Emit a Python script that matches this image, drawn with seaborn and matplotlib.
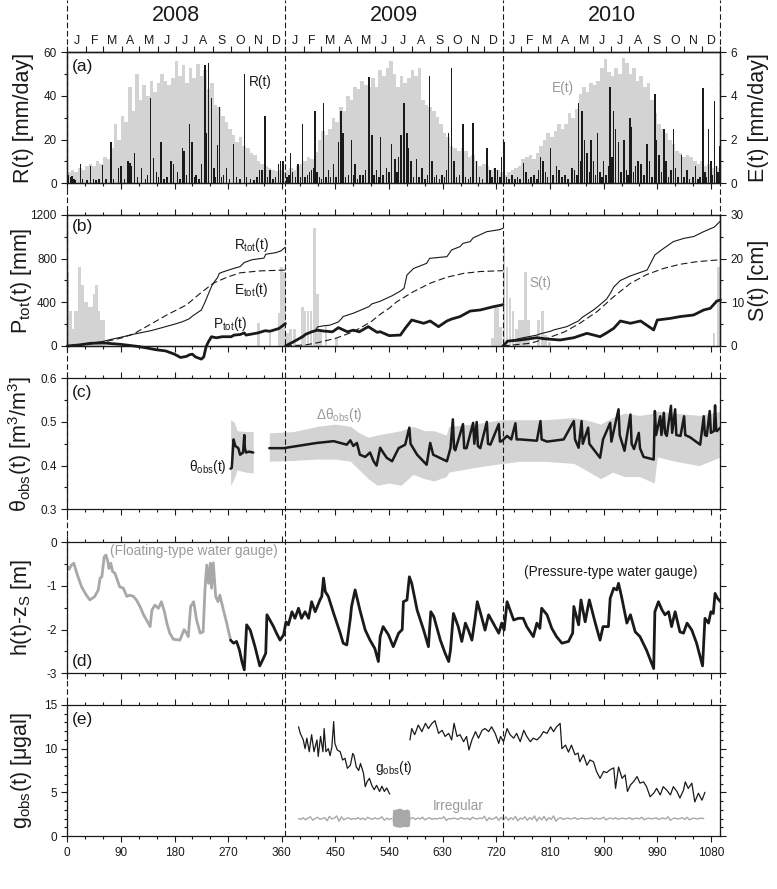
import numpy as np
import matplotlib
matplotlib.use("Agg")
import matplotlib.pyplot as plt
from matplotlib.ticker import MultipleLocator, NullFormatter
import seaborn as sns

sns.set_theme(style="ticks")
plt.rcParams['font.family'] = ['Liberation Sans', 'DejaVu Sans']
plt.rcParams['mathtext.fontset'] = 'custom'
plt.rcParams['mathtext.rm'] = 'Liberation Sans'
plt.rcParams['mathtext.it'] = 'Liberation Sans:italic'
plt.rcParams['mathtext.bf'] = 'Liberation Sans:bold'
plt.rcParams['axes.unicode_minus'] = False

# ---------------- data ----------------
years = ["2008", "2009", "2010"]
year_start = [0, 366, 731, 1096]
month_letters = list("JFMAMJJASOND")
month_len_2008 = [31, 29, 31, 30, 31, 30, 31, 31, 30, 31, 30, 31]
month_len_2009 = [31, 28, 31, 30, 31, 30, 31, 31, 30, 31, 30, 31]
month_len_2010 = [31, 28, 31, 30, 31, 30, 31, 31, 30, 31, 30, 31]
xtick_labels = ["0", "90", "180", "270", "360", "450", "540", "630", "720", "810", "900", "990", "1080"]

# (a) daily rainfall R(t) [mm/day]
R_day = [2, 5, 8, 11, 14, 22, 26, 33, 39, 44, 48, 53, 59, 65, 73, 78, 86, 90, 96, 102, 105, 108, 113, 118, 125,
         131, 135, 140, 145, 150, 153, 157, 162, 167, 174, 178, 185, 189, 193, 196, 200, 205, 209, 213, 216, 221,
         225, 231, 234, 237, 242, 246, 249, 252, 255, 259, 262, 267, 272, 279, 284, 290, 297, 301, 307, 313, 318,
         323, 327, 332, 336, 340, 345, 349, 354, 358, 362,
         369, 372, 375, 378, 383, 387, 391, 395, 399, 403, 406, 410, 413, 416, 419, 423, 427, 430, 434, 438, 442,
         447, 451, 455, 459, 463, 467, 472, 477, 480, 483, 487, 491, 496, 500, 506, 511, 515, 519, 523, 526, 530,
         536, 540, 544, 550, 553, 556, 560, 565, 570, 573, 577, 581, 586, 590, 595, 600, 604, 608, 612, 616, 620,
         625, 629, 633, 636, 640, 645, 649, 653, 658, 664, 668, 673, 677, 681, 687, 692, 697, 704, 709, 713, 718,
         722, 726, 729,
         733, 737, 741, 746, 751, 755, 760, 766, 770, 774, 778, 783, 788, 791, 794, 798, 802, 806, 811, 815, 821,
         825, 830, 835, 840, 847, 851, 855, 858, 861, 864, 868, 872, 876, 879, 883, 886, 890, 894, 897, 900, 904,
         908, 911, 914, 917, 920, 925, 929, 934, 938, 941, 944, 947, 950, 953, 958, 963, 968, 973, 977, 981, 986,
         989, 993, 997, 1001, 1005, 1009, 1013, 1017, 1021, 1025, 1031, 1035, 1040, 1044, 1050, 1054, 1058, 1062,
         1067, 1070, 1073, 1076, 1080, 1083, 1086, 1089, 1092, 1095]
R_val = [4, 3, 3.5, 2, 1.5, 9, 2, 1.5, 8, 2, 1.5, 2, 8.5, 2, 19, 2, 7, 8, 2, 10, 9.5, 8, 14, 3, 7,
         2, 4, 39, 11.5, 5, 3, 19, 2, 3, 10, 9, 5, 2, 16, 15, 4, 27, 19, 3, 4, 2,
         9, 54, 23, 55, 39, 7, 3, 17.5, 35, 3, 4, 7, 2, 18, 3, 2, 50, 3, 2, 1.5, 3,
         6, 6, 31, 3, 6, 2, 3, 9, 10, 10,
         3, 4, 14, 5, 3, 9, 3, 27, 3, 4, 5, 6, 7, 33, 5, 3, 2, 37, 3, 6, 3,
         9, 3, 19, 33, 23, 3, 4, 20, 4, 9, 2, 4, 4, 6, 48.5, 22, 4, 6, 3, 21, 4,
         7, 5, 18, 11, 5, 12, 22, 37, 23, 16, 10, 3, 11, 3, 7, 2, 4, 49, 10, 3, 4,
         2, 4, 3, 6, 23, 53, 10, 3, 4, 27, 3, 2, 3, 27.5, 10, 3, 2, 16, 6, 3, 7,
         6, 3, 12,
         19, 3, 2, 4, 2, 3, 2, 9.5, 5, 2, 3, 4, 2, 6, 12, 10, 5, 3, 16, 4, 8,
         6, 3, 4, 2, 7, 6, 4, 37, 10, 33, 20, 14, 5, 20, 10, 4, 23, 5, 3, 10, 4,
         8, 44, 12, 33, 25, 19, 5, 20, 6, 4, 30, 26, 5, 8, 10, 9, 4, 18, 10, 3, 41,
         20, 13, 5, 25, 10, 3, 6, 25, 7, 3, 13, 3, 6, 2, 3, 8, 2, 3,
         43.5, 5, 3, 25, 10, 4, 37.5, 8, 5, 17]

# (a) evaporation E(t) [mm/day], 6-day bins starting at day 0
E_val = [0.5, 0.6, 0.5, 0.7, 0.6, 0.8, 0.9, 0.8, 1.0, 0.9,
         1.2, 1.1, 1.6, 2.7, 2.0, 3.1, 2.8, 4.4, 3.3, 5.0,
         3.8, 4.5, 4.0, 4.7, 4.2, 4.6, 5.0, 4.7, 4.5, 4.8,
         5.6, 4.9, 5.4, 4.6, 5.3, 4.8, 5.45, 4.9, 5.2, 4.3,
         4.6, 3.6, 3.5, 3.1, 2.8, 2.5, 2.2, 1.9, 2.1, 1.7,
         1.6, 1.4, 1.3, 1.0, 0.9, 0.8, 0.7, 0.6, 0.55, 0.6,
         0.5, 0.6, 0.7, 0.6, 0.8, 0.9, 1.0, 1.2, 1.1, 1.45,
         2.0, 2.4, 2.2, 2.5, 3.0, 2.8, 3.5, 3.3, 4.0, 3.8,
         4.4, 4.3, 4.7, 4.5, 4.4, 4.8, 4.4, 5.2, 4.9, 5.3,
         5.6, 5.0, 4.4, 4.9, 4.6, 4.8, 5.2, 4.9, 5.3, 3.8,
         3.6, 3.5, 3.3, 3.05, 2.7, 2.3, 2.1, 1.7, 1.6, 1.5,
         1.6, 1.5, 1.2, 1.3, 1.0, 0.8, 0.9, 0.8, 0.6, 0.7,
         0.6, 0.5, 0.4, 0.5, 0.6, 0.7, 0.8, 1.1, 1.2, 1.3,
         1.1, 1.4, 1.7, 2.0, 2.3, 2.1, 2.4, 2.7, 2.5, 2.7,
         3.2, 3.0, 3.4, 4.1, 4.4, 4.2, 4.6, 4.5, 4.7, 5.3,
         5.7, 5.1, 4.9, 5.3, 5.0, 5.75, 5.5, 5.0, 5.3, 4.7,
         4.9, 4.4, 4.6, 3.8, 3.2, 2.7, 2.5, 2.3, 2.0, 1.8,
         1.5, 1.4, 1.2, 1.3, 1.2, 1.0, 0.9, 1.0, 0.8, 0.9,
         0.7, 0.8, 0.7]

# (b) cumulative totals [mm], one list per year
Rtot_day = [[0, 30, 60, 73, 90, 113, 140, 157, 180, 193, 205, 209, 217, 225, 231, 237, 242, 247, 252, 255, 262,
             279, 290, 297, 310, 330, 333, 350, 358, 366],
            [366, 375, 380, 395, 400, 416, 420, 430, 440, 455, 460, 463, 477, 480, 506, 511, 525, 545, 558, 565,
             570, 581, 603, 608, 637, 645, 659, 664, 676, 681, 704, 725, 731],
            [731, 738, 760, 788, 794, 811, 816, 838, 858, 864, 883, 890, 905, 911, 917, 928, 944, 973, 986, 1001,
             1017, 1035, 1051, 1067, 1086, 1096]]
Rtot_val = [[0, 18, 42, 60, 80, 110, 140, 165, 200, 222, 250, 270, 300, 330, 400, 480, 545, 590, 625, 665, 680,
             710, 727, 765, 790, 805, 840, 855, 870, 905],
            [0, 20, 40, 95, 105, 140, 175, 185, 190, 220, 250, 270, 295, 300, 360, 385, 410, 460, 500, 528,
             650, 710, 757, 803, 818, 880, 910, 940, 956, 990, 1047, 1065, 1078],
            [0, 40, 70, 100, 112, 135, 147, 177, 230, 262, 330, 360, 430, 480, 540, 600, 640, 696, 834, 895,
             956, 986, 1002, 1045, 1090, 1145]]
Etot_day = [[0, 30, 60, 90, 111, 140, 167, 200, 223, 245, 268, 290, 324, 366],
            [366, 400, 420, 450, 480, 510, 525, 540, 553, 581, 609, 637, 665, 693, 731],
            [731, 777, 805, 835, 860, 889, 917, 945, 973, 1001, 1028, 1056, 1096]]
Etot_val = [[0, 12, 35, 72, 110, 200, 284, 376, 482, 575, 630, 670, 688, 695],
            [0, 10, 30, 70, 130, 223, 290, 345, 406, 498, 575, 630, 665, 682, 690],
            [0, 25, 70, 131, 208, 315, 452, 574, 656, 711, 748, 772, 790]]
Ptot_day = [[0, 20, 40, 60, 90, 120, 150, 165, 180, 190, 200, 205, 210, 215, 225, 229, 233, 237, 242, 250, 260,
             275, 280, 290, 297, 300, 320, 332, 340, 355, 360, 366],
            [366, 380, 395, 400, 410, 420, 430, 445, 455, 470, 480, 490, 505, 520, 525, 540, 559, 567, 578, 598,
             609, 623, 637, 645, 659, 676, 693, 715, 729, 731],
            [731, 739, 760, 788, 805, 827, 850, 872, 894, 905, 917, 928, 945, 962, 984, 990, 1012, 1028, 1051,
             1068, 1079, 1090, 1096]]
Ptot_val = [[0, 10, 25, 28, 15, -5, -35, -45, -75, -105, -95, -80, -75, -100, -120, -100, -5, 40, 85, 75, 85,
             85, 100, 105, 120, 100, 120, 140, 135, 160, 180, 205],
            [0, 40, 85, 107, 130, 145, 137, 130, 168, 130, 145, 130, 177, 125, 131, 95, 100, 162, 238, 208,
             229, 177, 229, 247, 269, 320, 330, 360, 375, 380],
            [0, 45, 55, 76, 64, 55, 76, 116, 85, 120, 162, 229, 208, 229, 147, 238, 253, 269, 284, 330, 345,
             412, 421]]

# (b) snow depth S(t) [cm]
S_day = [1, 5, 9, 13, 17, 21, 25, 29, 33, 37, 41, 45, 49, 53, 57, 61, 321, 340, 356, 360, 364,
         370, 375, 381, 395, 399, 404, 409, 415, 420, 425, 434, 452,
         714, 719, 723, 727, 733, 738, 743, 748, 754, 759, 764, 769, 774, 791, 797, 802, 809, 1085, 1093]
S_val = [17, 8, 4, 8, 8, 18, 14, 10, 10, 9, 9, 12, 14, 8, 6, 6, 5.2, 3, 7.5, 18, 17,
         2.9, 4, 4, 9, 8, 8, 8, 27, 12, 4, 4.8, 1.8,
         1.8, 8.6, 8.6, 4.4, 23, 18, 11, 8, 4, 6, 6, 17, 6, 6, 8, 2.5, 1, 3, 18]

# (c) soil moisture theta_obs(t) [m3/m3]
th1_day = [274, 276, 279, 282, 287, 290, 295, 297, 298, 300, 305, 312]
th1_val = [0.393, 0.395, 0.46, 0.445, 0.44, 0.425, 0.43, 0.47, 0.44, 0.43, 0.432, 0.43]
th2_day = [339, 363, 391, 419, 447, 469, 475, 480, 486, 491, 500, 508, 514, 519, 525, 530, 536, 545, 556, 567,
           574, 576, 587, 603, 609, 614, 637, 643, 647, 649, 651, 664, 666, 670, 681, 683, 687, 689, 693, 704,
           706, 710, 724, 726, 729, 738, 745, 752, 754, 760, 788, 794, 796, 805, 833, 850, 852, 858, 863, 865,
           874, 876, 894, 899, 911, 913, 925, 927, 935, 945, 947, 951, 959, 961, 967, 984, 986, 988, 995, 997,
           1001, 1003, 1006, 1013, 1015, 1020, 1022, 1029, 1035, 1037, 1045, 1062, 1068, 1070, 1073, 1078,
           1080, 1085, 1087, 1089, 1090, 1096]
th2_val = [0.44, 0.44, 0.446, 0.452, 0.456, 0.448, 0.458, 0.445, 0.452, 0.425, 0.42, 0.43, 0.41, 0.40, 0.441,
           0.43, 0.418, 0.41, 0.44, 0.448, 0.487, 0.45, 0.425, 0.402, 0.452, 0.425, 0.41, 0.44, 0.506, 0.44,
           0.435, 0.495, 0.44, 0.44, 0.498, 0.45, 0.5, 0.445, 0.44, 0.5, 0.45, 0.448, 0.495, 0.455, 0.456,
           0.468, 0.46, 0.497, 0.46, 0.46, 0.457, 0.502, 0.46, 0.455, 0.46, 0.502, 0.46, 0.441, 0.502, 0.45,
           0.487, 0.45, 0.418, 0.46, 0.498, 0.455, 0.529, 0.47, 0.434, 0.517, 0.45, 0.438, 0.475, 0.44, 0.42,
           0.414, 0.525, 0.47, 0.513, 0.47, 0.521, 0.475, 0.468, 0.537, 0.475, 0.529, 0.47, 0.468, 0.513,
           0.47, 0.465, 0.448, 0.513, 0.47, 0.468, 0.525, 0.475, 0.479, 0.538, 0.48, 0.479, 0.487]
band1_day = [274, 280, 285, 300, 312]
band1_lo = [0.355, 0.37, 0.39, 0.385, 0.383]
band1_hi = [0.505, 0.50, 0.48, 0.478, 0.478]
band2_day = [339, 380, 420, 450, 475, 490, 505, 520, 540, 560, 580, 600, 615, 636, 640, 680, 730, 760, 800,
             850, 870, 895, 915, 935, 960, 985, 990, 1020, 1060, 1096]
band2_lo = [0.41, 0.412, 0.415, 0.415, 0.41, 0.39, 0.37, 0.355, 0.36, 0.355, 0.38, 0.37, 0.365, 0.375, 0.385,
            0.395, 0.405, 0.41, 0.41, 0.405, 0.39, 0.37, 0.385, 0.375, 0.375, 0.36, 0.42, 0.41, 0.40, 0.42]
band2_hi = [0.475, 0.478, 0.49, 0.495, 0.49, 0.475, 0.465, 0.47, 0.475, 0.48, 0.49, 0.48, 0.48, 0.47, 0.49,
            0.495, 0.505, 0.505, 0.505, 0.51, 0.505, 0.495, 0.51, 0.52, 0.515, 0.52, 0.525, 0.52, 0.515, 0.525]

# (d) groundwater level h(t)-zS [m]
hf_day = [0, 3, 7, 11, 16, 24, 32, 38, 46, 52, 55, 58, 62, 65, 68, 70, 73, 76, 80, 88, 94, 100, 105, 111, 116,
          122, 128, 133, 139, 142, 147, 153, 158, 163, 167, 172, 178, 189, 196, 200, 203, 207, 212, 217, 223,
          228, 231, 234, 237, 240, 242, 245, 249, 253, 256, 262, 267, 274]
hf_val = [-0.56, -0.62, -0.52, -0.48, -0.71, -1.02, -1.21, -1.32, -1.24, -1.09, -0.82, -0.79, -0.33, -0.29,
          -0.44, -0.60, -0.48, -0.67, -0.71, -1.02, -1.05, -1.24, -1.21, -1.24, -1.32, -1.47, -1.66, -1.78,
          -1.93, -1.55, -1.44, -1.51, -1.36, -1.59, -1.85, -2.08, -2.22, -2.24, -2.0, -2.08, -2.16, -1.47,
          -1.36, -1.78, -2.08, -2.05, -1.09, -0.52, -0.94, -0.48, -1.05, -0.47, -1.24, -1.36, -1.21, -1.55,
          -1.82, -2.24]
hp_day = [274, 279, 284, 289, 293, 297, 301, 307, 315, 323, 329, 333, 335, 340, 346, 351, 357, 363, 367, 371,
          377, 382, 388, 393, 399, 405, 410, 416, 424, 427, 430, 433, 438, 447, 458, 463, 469, 475, 477, 483,
          491, 500, 508, 516, 522, 525, 530, 539, 547, 556, 562, 564, 570, 574, 578, 587, 598, 606, 610, 615,
          626, 634, 640, 643, 648, 656, 662, 668, 673, 679, 684, 688, 695, 701, 707, 718, 724, 729, 733, 738,
          743, 749, 757, 765, 771, 782, 788, 793, 796, 805, 813, 821, 830, 841, 848, 850, 858, 862, 869, 876,
          886, 894, 899, 908, 911, 917, 922, 925, 930, 939, 945, 953, 961, 972, 984, 986, 992, 998, 1003, 1009,
          1014, 1020, 1028, 1034, 1040, 1048, 1056, 1066, 1070, 1076, 1080, 1084, 1087, 1091, 1096]
hp_val = [-2.24, -2.31, -2.27, -2.47, -2.73, -2.92, -1.89, -2.01, -2.39, -2.83, -2.66, -2.54, -1.66, -1.78,
          -1.93, -2.08, -2.24, -2.12, -1.82, -1.89, -1.59, -1.74, -1.51, -1.74, -1.59, -1.74, -1.36, -1.59,
          -1.32, -1.24, -0.82, -1.13, -1.24, -1.63, -2.08, -2.31, -2.35, -1.74, -1.47, -1.09, -1.55, -2.01,
          -2.24, -2.43, -2.73, -2.16, -1.93, -2.12, -2.39, -2.08, -2.0, -1.36, -1.32, -0.79, -0.94, -1.55,
          -2.01, -2.39, -1.59, -1.70, -2.24, -2.54, -2.73, -2.47, -1.63, -1.93, -2.27, -1.85, -2.01, -2.24,
          -1.78, -1.36, -1.70, -2.01, -1.66, -1.93, -2.08, -1.85, -2.01, -1.36, -1.55, -1.78, -1.74, -1.74,
          -1.93, -2.16, -1.85, -1.97, -1.51, -1.66, -1.97, -2.16, -2.31, -2.27, -2.08, -1.47, -1.89, -1.32,
          -1.82, -1.32, -1.85, -2.24, -1.93, -1.93, -1.28, -1.05, -1.09, -0.94, -1.24, -1.85, -1.66, -2.05,
          -2.16, -2.47, -2.89, -1.59, -1.36, -1.55, -1.66, -1.59, -1.93, -1.59, -2.05, -2.08, -1.85, -2.01,
          -2.31, -2.83, -1.74, -1.85, -1.59, -1.63, -1.17, -1.28, -1.36]

# (e) gravity g_obs(t) [microgal]
g1_day = [388, 391, 396, 399, 402, 406, 410, 414, 419, 421, 425, 429, 431, 434, 438, 441, 444, 447, 449, 453,
          458, 462, 466, 470, 475, 479, 481, 485, 489, 492, 497, 500, 503, 507, 511, 515, 519, 524, 528, 532,
          536, 541]
g1_val = [12.5, 11.75, 11.0, 10.0, 11.2, 9.65, 11.6, 9.65, 11.0, 9.1, 11.4, 9.65, 12.3, 9.65, 10.0, 9.2, 10.2,
          13.1, 10.6, 9.85, 9.65, 8.7, 8.9, 7.75, 8.1, 9.45, 9.25, 7.9, 7.5, 8.3, 7.2, 5.65, 6.2, 6.6, 5.8, 5.3,
          5.8, 5.1, 5.7, 5.1, 5.5, 4.8]
g2_day = [575, 578, 583, 589, 595, 601, 606, 612, 617, 623, 629, 634, 640, 645, 649, 654, 659, 665, 670, 674,
          679, 685, 690, 696, 701, 707, 712, 718, 724, 727, 732, 738, 743, 749, 754, 760, 766, 771, 777, 782,
          788, 794, 799, 805, 811, 816, 821, 827, 830, 836, 841, 846, 852, 857, 860, 866, 872, 877, 883, 888,
          894, 900, 905, 911, 917, 920, 925, 931, 936, 940, 945, 950, 956, 961, 967, 972, 978, 984, 989, 995,
          1000, 1006, 1012, 1017, 1023, 1028, 1034, 1037, 1042, 1048, 1053, 1059, 1065, 1070]
g2_val = [11.0, 12.3, 11.6, 12.7, 11.95, 12.9, 12.3, 12.9, 13.2, 11.75, 12.1, 11.4, 11.75, 11.0, 12.9, 11.4,
          11.6, 10.8, 11.4, 9.85, 11.0, 11.95, 11.2, 12.1, 12.3, 11.95, 12.5, 11.75, 10.6, 11.4, 10.8, 12.3,
          11.6, 11.2, 11.75, 10.8, 12.1, 11.4, 10.8, 11.2, 11.0, 11.4, 11.95, 11.75, 12.5, 11.95, 12.5, 12.9,
          10.0, 10.4, 9.6, 10.4, 9.3, 9.5, 8.5, 9.3, 8.1, 8.7, 8.5, 7.4, 6.6, 7.4, 7.25, 7.6, 7.8, 5.45, 7.9,
          6.6, 7.0, 5.1, 5.85, 6.2, 6.8, 6.05, 6.2, 5.65, 4.5, 4.9, 5.45, 4.7, 5.65, 5.25, 4.7, 5.65, 5.1,
          4.35, 5.25, 6.2, 5.45, 6.05, 3.9, 4.9, 4.1, 5.0]
irr1_val = [2.0, 1.9, 2.1, 1.85, 2.05, 2.2, 1.8, 2.0, 2.15, 1.9,
            2.0, 2.1, 1.75, 2.25, 1.95, 2.05, 2.3, 1.7, 2.2, 1.85,
            2.0, 2.1, 1.9, 2.0, 1.95, 2.1, 1.9, 2.05, 1.85, 2.15,
            2.0, 1.9, 2.1, 1.95, 2.0, 2.2, 1.8, 2.05, 1.9, 2.0]
irr2_val = [2.0, 2.1, 1.9, 2.05, 1.95, 2.15, 1.85, 2.0, 2.1, 1.9,
            2.0, 1.95, 2.05, 2.0, 2.2, 1.8, 2.0, 1.95, 2.05, 2.0,
            1.9, 2.1, 2.0, 1.95, 2.05, 1.85, 2.15, 2.0, 1.95, 2.05,
            2.0, 2.25, 1.75, 2.1, 1.9, 2.0, 2.2, 1.8, 2.15, 1.85,
            2.2, 1.8, 2.1, 1.9, 2.25, 1.75, 2.05, 1.95, 2.2, 1.8,
            2.1, 1.9, 2.3, 1.7, 2.15, 1.85, 2.25, 1.75, 2.1, 1.9,
            2.3, 1.7, 2.0, 2.1, 1.9, 2.0, 2.05, 1.95, 2.0, 2.1,
            1.9, 2.0, 2.05, 1.95, 2.0, 2.0, 2.1, 1.9, 2.05, 1.95,
            2.0, 2.15, 1.85, 2.0, 2.05, 1.95, 2.1, 1.9, 2.0, 2.05,
            1.95, 2.0, 2.1, 1.9, 2.0, 2.05, 1.95, 2.15, 1.85, 2.0,
            2.05, 1.95, 2.0, 2.1, 1.9, 2.0, 2.05, 1.95, 2.2, 1.8,
            2.0, 2.05, 1.95, 2.0, 2.1, 1.9, 2.15, 1.85, 2.0, 2.05,
            1.95, 2.0, 2.05, 2.0]
burst_day = [545, 546, 552, 558, 564, 570, 574, 575]
burst_lo = [1.9, 1.2, 1.05, 1.0, 1.1, 1.05, 1.15, 1.9]
burst_hi = [2.1, 3.0, 3.1, 3.2, 3.0, 3.1, 2.95, 2.1]

# ---------------- styling ----------------
BLACK = '#1a1a1a'
LGRAY = '#d3d3d3'
MGRAY = '#a8a8a8'
TGRAY = '#9a9a9a'
FS_TICK = 8.5
FS_LAB = 15.5
FS_ANN = 9.8
FS_PAN = 12.5


def line(ax, d, v, **kw):
    sns.lineplot(x=np.asarray(d, float), y=np.asarray(v, float), ax=ax, sort=False,
                 estimator=None, legend=False, **kw)


fig = plt.figure(figsize=(7.77, 8.89), dpi=100)
L, W, H = 0.0866, 0.8406, 0.1474
bottoms = [0.7938, 0.6108, 0.4271, 0.2426, 0.0596]
axs = [fig.add_axes([L, b, W, H]) for b in bottoms]


def style_axes(ax):
    ax.set_xlim(0, 1096)
    ax.xaxis.set_major_locator(MultipleLocator(90))
    ax.xaxis.set_minor_locator(MultipleLocator(30))
    ax.tick_params(axis='both', which='both', direction='out', color=BLACK, width=0.8,
                   labelsize=FS_TICK, labelcolor=BLACK)
    ax.tick_params(axis='x', which='both', top=True, bottom=True, labelbottom=False)
    ax.tick_params(axis='y', which='major', length=4)
    ax.tick_params(axis='y', which='minor', length=2.2)
    ax.tick_params(axis='x', which='major', length=4.3)
    ax.tick_params(axis='x', which='minor', length=2.4)
    for s in ax.spines.values():
        s.set_visible(True)
        s.set_linewidth(0.9)
        s.set_color(BLACK)
    ax.yaxis.set_label_coords(-0.051, 0.5)
    ax.grid(False)


for ax in axs:
    style_axes(ax)

# ---------------- (a) ----------------
axa = axs[0]
axa2 = axa.twinx()
axa.set_zorder(axa2.get_zorder() + 1)
axa.patch.set_visible(False)
E_center = np.arange(len(E_val)) * 6 + 3
axa2.bar(E_center, E_val, width=6, color=LGRAY, linewidth=0)
axa.bar(R_day, R_val, width=2.4, color=BLACK, linewidth=0)
axa.set_ylim(0, 60)
axa.yaxis.set_major_locator(MultipleLocator(20))
axa.yaxis.set_minor_locator(MultipleLocator(10))
axa2.set_ylim(0, 6)
axa2.set_xlim(0, 1096)
axa2.yaxis.set_major_locator(MultipleLocator(2))
axa2.yaxis.set_minor_locator(MultipleLocator(1))
axa.tick_params(axis='x', which='both', top=False)
axa.set_ylabel("R(t) [mm/day]", fontsize=FS_LAB, color=BLACK)
axa2.set_ylabel("E(t) [mm/day]", fontsize=FS_LAB, color=BLACK)
axa.text(8, 53.7, "(a)", fontsize=FS_PAN, va='center', ha='left', color=BLACK)
axa.text(304, 46.5, "R(t)", fontsize=FS_ANN, va='center', ha='left', color=BLACK)
axa.text(813, 43.5, "E(t)", fontsize=FS_ANN, va='center', ha='left', color=TGRAY)

# month ticks on top
bounds, centers, labels = [], [], []
for y0, ml in zip(year_start[:3], [month_len_2008, month_len_2009, month_len_2010]):
    edges = y0 + np.concatenate([[0], np.cumsum(ml)])
    bounds.extend(edges.tolist())
    centers.extend(((edges[:-1] + edges[1:]) / 2).tolist())
    labels.extend(month_letters)
sec = axa.secondary_xaxis('top')
sec.set_xticks(sorted(set(bounds)))
sec.xaxis.set_major_formatter(NullFormatter())
sec.set_xticks(centers, labels=labels, minor=True)
sec.tick_params(which='major', direction='out', length=4, width=0.8, color=BLACK)
sec.tick_params(which='minor', length=0, pad=4, labelsize=FS_TICK + 0.3, labelcolor=BLACK)
sec.spines['top'].set_linewidth(0.9)
sec.spines['top'].set_color(BLACK)

# ---------------- (b) ----------------
axb = axs[1]
axb2 = axb.twinx()
axb.set_zorder(axb2.get_zorder() + 1)
axb.patch.set_visible(False)
axb2.bar(S_day, S_val, width=4.5, color=LGRAY, linewidth=0)
for d, v in zip(Rtot_day, Rtot_val):
    line(axb, d, v, color=BLACK, linewidth=0.8)
for d, v in zip(Etot_day, Etot_val):
    line(axb, d, v, color=BLACK, linewidth=0.8, linestyle=(0, (6, 3)))
for d, v in zip(Ptot_day, Ptot_val):
    line(axb, d, v, color=BLACK, linewidth=2.0, clip_on=False)
axb.set_ylim(0, 1200)
axb.yaxis.set_major_locator(MultipleLocator(400))
axb.yaxis.set_minor_locator(MultipleLocator(200))
axb2.set_ylim(0, 30)
axb2.set_xlim(0, 1096)
axb2.yaxis.set_major_locator(MultipleLocator(10))
axb2.yaxis.set_minor_locator(MultipleLocator(5))
axb.set_xlim(0, 1096)
axb.set_xlabel("")
axb.set_ylabel("P$_{\\rm tot}$(t) [mm]", fontsize=FS_LAB, color=BLACK)
axb2.set_ylabel("S(t) [cm]", fontsize=FS_LAB, color=BLACK)
axb.text(8, 1093, "(b)", fontsize=FS_PAN, va='center', ha='left', color=BLACK)
axb.text(279, 925, "R$_{\\rm tot}$(t)", fontsize=FS_ANN, va='center', ha='left', color=BLACK)
axb.text(279, 513, "E$_{\\rm tot}$(t)", fontsize=FS_ANN, va='center', ha='left', color=BLACK)
axb.text(245, 205, "P$_{\\rm tot}$(t)", fontsize=FS_ANN, va='center', ha='left', color=BLACK)
axb.text(775, 574, "S(t)", fontsize=FS_ANN, va='center', ha='left', color=TGRAY)

for twin in (axa2, axb2):
    twin.tick_params(axis='y', which='both', direction='out', color=BLACK, width=0.8,
                     labelsize=FS_TICK, labelcolor=BLACK)
    twin.tick_params(axis='y', which='major', length=4)
    twin.tick_params(axis='y', which='minor', length=2.2)
    twin.yaxis.set_label_coords(1.042, 0.5)
    twin.grid(False)
    for s in twin.spines.values():
        s.set_linewidth(0.9)
        s.set_color(BLACK)

# ---------------- (c) ----------------
axc = axs[2]
axc.fill_between(band1_day, band1_lo, band1_hi, color=LGRAY, linewidth=0)
axc.fill_between(band2_day, band2_lo, band2_hi, color=LGRAY, linewidth=0)
line(axc, th1_day, th1_val, color=BLACK, linewidth=1.8)
line(axc, th2_day, th2_val, color=BLACK, linewidth=1.8)
axc.set_ylim(0.3, 0.6)
axc.yaxis.set_major_locator(MultipleLocator(0.1))
axc.yaxis.set_minor_locator(MultipleLocator(0.05))
axc.set_ylabel("θ$_{\\rm obs}$(t) [m$^{3}$/m$^{3}$]", fontsize=FS_LAB, color=BLACK)
axc.text(8, 0.568, "(c)", fontsize=FS_PAN, va='center', ha='left', color=BLACK)
axc.text(267, 0.397, "θ$_{\\rm obs}$(t)", fontsize=FS_ANN, va='center', ha='right', color=BLACK)
axc.text(457, 0.515, "Δθ$_{\\rm obs}$(t)", fontsize=FS_ANN, va='center', ha='center', color=TGRAY)

# ---------------- (d) ----------------
axd = axs[3]
line(axd, hf_day, hf_val, color=MGRAY, linewidth=2.0)
line(axd, hp_day, hp_val, color=BLACK, linewidth=2.0)
axd.set_ylim(-3, 0)
axd.yaxis.set_major_locator(MultipleLocator(1))
axd.yaxis.set_minor_locator(MultipleLocator(0.5))
axd.set_ylabel("h(t)-z$_{\\rm S}$ [m]", fontsize=FS_LAB, color=BLACK)
axd.text(8, -2.73, "(d)", fontsize=FS_PAN, va='center', ha='left', color=BLACK)
axd.text(72, -0.21, "(Floating-type water gauge)", fontsize=FS_ANN, va='center', ha='left', color=TGRAY)
axd.text(912, -0.67, "(Pressure-type water gauge)", fontsize=FS_ANN, va='center', ha='center', color=BLACK)

# ---------------- (e) ----------------
axe = axs[4]
irr1_day = np.arange(388, 388 + 4 * len(irr1_val), 4)
irr2_day = np.arange(576, 576 + 4 * len(irr2_val), 4)
line(axe, irr1_day, irr1_val, color=MGRAY, linewidth=1.0)
line(axe, irr2_day, irr2_val, color=MGRAY, linewidth=1.0)
axe.fill_between(burst_day, burst_lo, burst_hi, color=MGRAY, linewidth=0)
line(axe, g1_day, g1_val, color=BLACK, linewidth=0.9)
line(axe, g2_day, g2_val, color=BLACK, linewidth=0.9)
axe.set_ylim(0, 15)
axe.yaxis.set_major_locator(MultipleLocator(5))
axe.yaxis.set_minor_locator(MultipleLocator(1))
axe.set_ylabel("g$_{\\rm obs}$(t) [μgal]", fontsize=FS_LAB, color=BLACK)
axe.text(8, 13.3, "(e)", fontsize=FS_PAN, va='center', ha='left', color=BLACK)
axe.text(516, 7.75, "g$_{\\rm obs}$(t)", fontsize=FS_ANN, va='center', ha='left', color=BLACK)
axe.text(613, 3.43, "Irregular", fontsize=FS_ANN, va='center', ha='left', color=TGRAY)
axe.tick_params(axis='x', labelbottom=True)
axe.set_xticks(np.arange(0, 1081, 90), labels=xtick_labels)
axe.set_xlabel("Days from 2008/01/01 (JST)", fontsize=FS_LAB, color=BLACK, labelpad=3)

for ax in axs[2:]:
    ax.tick_params(axis='y', which='both', right=True, labelright=False)
for ax in axs:
    ax.set_xlim(0, 1096)

# ---------------- year boundaries / year labels ----------------
ov = fig.add_axes([L, bottoms[-1], W, 1 - bottoms[-1]])
ov.set_xlim(0, 1096)
ov.set_ylim(0, 1)
ov.axis('off')
ov.patch.set_visible(False)
ov.set_zorder(20)
for d in year_start:
    ov.axvline(d, color=BLACK, linewidth=0.8, linestyle=(0, (5, 2.5)), clip_on=False)
for i, yname in enumerate(years):
    ov.text((year_start[i] + year_start[i + 1]) / 2, 0.982, yname, fontsize=FS_LAB,
            ha='center', va='center', color=BLACK)

fig.savefig("out.png", dpi=100)
